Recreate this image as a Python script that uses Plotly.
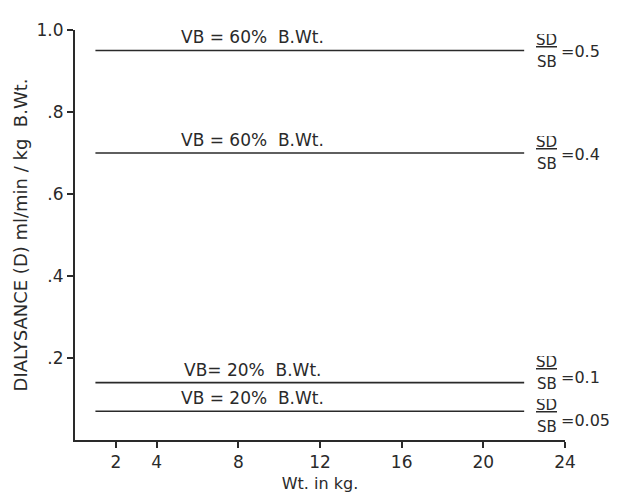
import plotly.graph_objects as go

# Data
weight_start = 1
weight_end = 22
dialysance = [0.95, 0.70, 0.14, 0.07]
vb_labels = ["VB = 60%  B.Wt.", "VB = 60%  B.Wt.", "VB= 20%  B.Wt.", "VB = 20%  B.Wt."]
sd_sb_ratio = ["0.5", "0.4", "0.1", "0.05"]
x_ticks = [2, 4, 8, 12, 16, 20, 24]
x_ticklabels = ["2", "4", "8", "12", "16", "20", "24"]
y_ticks = [0.2, 0.4, 0.6, 0.8, 1.0]
y_ticklabels = [".2", ".4", ".6", ".8", "1.0"]

# label pixel offsets (layout only)
frac_shift = [0, 0, 10, -5]
eq_shift = [-1, -1, 5, -9]

FONT = "DejaVu Sans"
INK = "#2a2a2a"
NB = "\u00a0"

fig = go.Figure()
for d in dialysance:
    fig.add_trace(go.Scatter(
        x=[weight_start, weight_end], y=[d, d], mode="lines",
        line=dict(color=INK, width=1.6), showlegend=False, hoverinfo="skip"))

for d, lab, r, fs, es in zip(dialysance, vb_labels, sd_sb_ratio, frac_shift, eq_shift):
    fig.add_annotation(x=8.7, y=d, text=lab.replace("  ", NB + NB), showarrow=False,
                       xanchor="center", yanchor="bottom", yshift=1,
                       font=dict(family=FONT, size=17, color=INK))
    fig.add_annotation(x=23.1, y=d, text="<u>SD</u>", showarrow=False,
                       xanchor="center", yanchor="bottom", height=15, valign="bottom",
                       yshift=fs, font=dict(family=FONT, size=15, color=INK))
    fig.add_annotation(x=23.1, y=d, text="SB", showarrow=False,
                       xanchor="center", yanchor="top", height=15, valign="top",
                       yshift=fs, font=dict(family=FONT, size=15, color=INK))
    fig.add_annotation(x=23.7, y=d, text="=" + r, showarrow=False,
                       xanchor="left", yanchor="middle", yshift=es,
                       font=dict(family=FONT, size=16, color=INK))

fig.update_xaxes(range=[0, 24], tickvals=x_ticks, ticktext=x_ticklabels,
                 showline=True, linecolor=INK, linewidth=2, ticks="outside",
                 tickcolor=INK, tickwidth=2, ticklen=6, showgrid=False,
                 zeroline=False, mirror=False,
                 tickfont=dict(family=FONT, size=17, color=INK),
                 title=dict(text="Wt. in kg.", font=dict(family=FONT, size=16, color=INK), standoff=6))
fig.update_yaxes(range=[0, 1.0], tickvals=y_ticks, ticktext=y_ticklabels,
                 showline=True, linecolor=INK, linewidth=2, ticks="outside",
                 tickcolor=INK, tickwidth=2, ticklen=6, showgrid=False,
                 zeroline=False,
                 tickfont=dict(family=FONT, size=17, color=INK),
                 title=dict(text="DIALYSANCE" + NB + "(D)" + NB + "ml/min" + NB + "/" + NB + "kg" + NB + NB + "B.Wt.",
                            font=dict(family=FONT, size=18, color=INK), standoff=4))
fig.update_layout(width=618, height=494, plot_bgcolor="white", paper_bgcolor="white",
                  margin=dict(l=67, r=61, t=20, b=53))
fig.write_html("out.html")
